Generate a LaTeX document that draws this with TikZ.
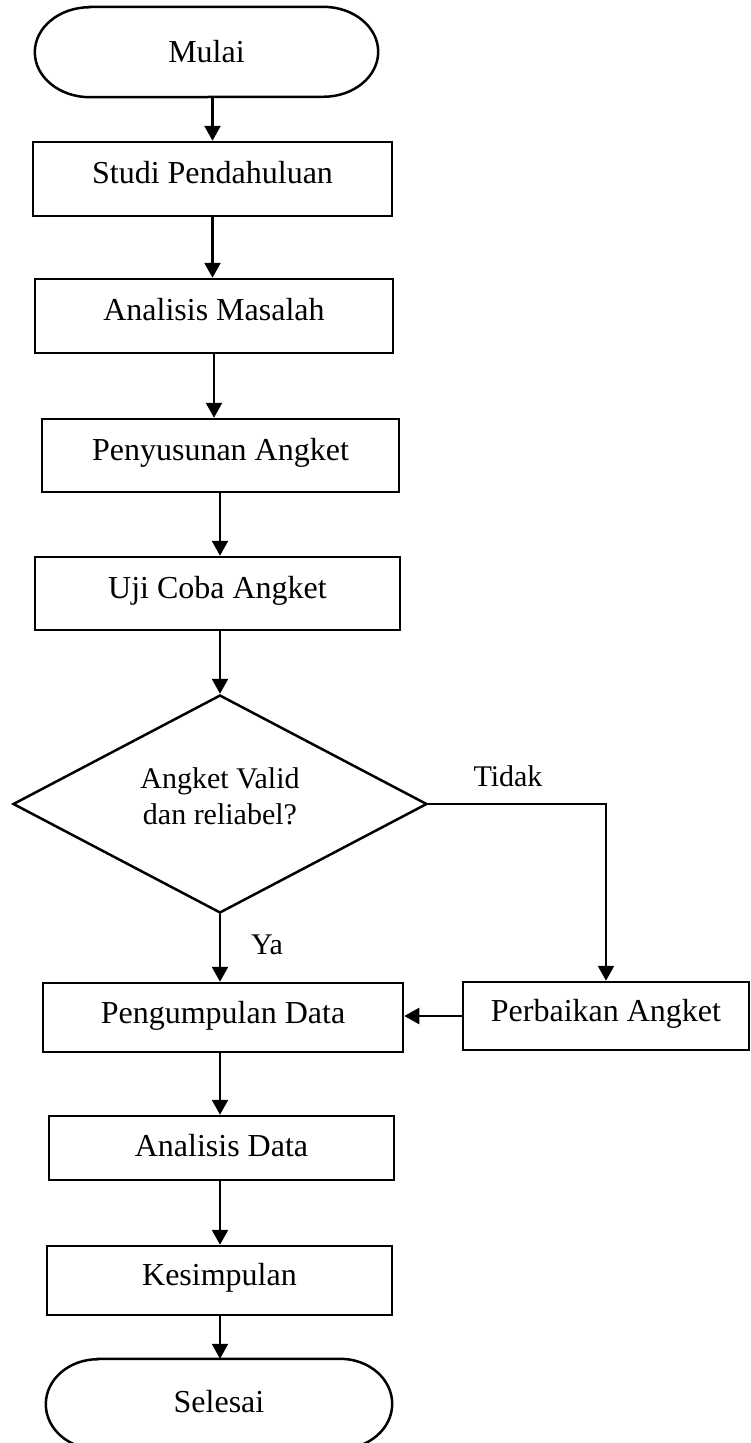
\documentclass[tikz,border=0pt]{standalone}
\usepackage{fontspec}
\setmainfont{Liberation Serif}
\usetikzlibrary{arrows.meta,shapes.geometric}
\newcommand\mainsz{\fontsize{32pt}{38pt}\selectfont}
\newcommand\labsz{\fontsize{30pt}{36pt}\selectfont}
\begin{document}
\begin{tikzpicture}[x=1pt,y=-1pt,
  box/.style={draw,rectangle,line width=2.5pt,inner sep=0pt,font=\mainsz,text height=24pt,text depth=15pt},
  term/.style={rectangle,inner sep=0pt,font=\mainsz,text height=21pt,text depth=0pt},
  termline/.style={line width=2.5pt},
  decision/.style={diamond,draw,line width=2.5pt,inner sep=0pt,minimum width=414pt,minimum height=218pt},
  arr/.style={line width=2.5pt,-{Triangle[width=16pt,length=15pt]}},
  lab/.style={font=\labsz,anchor=base}]
\clip (0,0) rectangle (750,1443);
\fill[white] (0,0) rectangle (750,1443);

% terminator start
\node[term,minimum width=343pt,minimum height=90pt] (start) at (206.5,52) {Mulai};
\draw[termline] ([xshift=55pt]start.north west) -- ([xshift=-55pt]start.north east)
  arc[start angle=90,end angle=-90,x radius=55pt,y radius=45pt]
  -- ([xshift=55pt]start.south west)
  arc[start angle=270,end angle=90,x radius=55pt,y radius=45pt] -- cycle;

\node[box,minimum width=359pt,minimum height=74pt] (studi) at (212.5,179) {Studi Pendahuluan};
\node[box,minimum width=358pt,minimum height=74pt] (anmas) at (214,316) {Analisis Masalah};
\node[box,minimum width=357pt,minimum height=73pt] (peny) at (220.5,455.5) {Penyusunan Angket};
\node[box,minimum width=365pt,minimum height=73pt] (uji) at (217.5,593.5) {Uji Coba Angket};
\node[decision] (dec) at (220,804) {};
\node[font=\labsz,align=center,anchor=base] (dectext) at (220,824) {Angket Valid\\dan reliabel?};
\node[box,minimum width=360pt,minimum height=69pt,text depth=13pt] (pengum) at (223,1017.5) {Pengumpulan Data};
\node[box,minimum width=286pt,minimum height=68pt,text depth=13pt] (perb) at (606,1016) {Perbaikan Angket};
\node[box,minimum width=345pt,minimum height=64pt,text height=20pt,text depth=4pt] (anda) at (221.5,1148) {Analisis Data};
\node[box,minimum width=345pt,minimum height=69pt] (kes) at (219.5,1280.5) {Kesimpulan};

% terminator end
\node[term,minimum width=346pt,minimum height=90pt,text height=20pt,text depth=4pt] (end) at (219,1404) {Selesai};
\draw[termline] ([xshift=52pt]end.north west) -- ([xshift=-52pt]end.north east)
  arc[start angle=90,end angle=-90,x radius=52pt,y radius=45pt]
  -- ([xshift=52pt]end.south west)
  arc[start angle=270,end angle=90,x radius=52pt,y radius=45pt] -- cycle;

% connectors
\draw[arr] (studi.north |- start.south) -- (studi.north);
\draw[arr] (studi.south) -- (studi.south |- anmas.north);
\draw[arr] (anmas.south) -- (anmas.south |- peny.north);
\draw[arr] (peny.south -| dec.north) -- (dec.north |- uji.north);
\draw[arr] (uji.south -| dec.north) -- (dec.north);
\draw[arr] (dec.south) -- (dec.south |- pengum.north);
\draw[arr] (dec.east) -| (perb.north);
\draw[arr] (perb.west) -- (pengum.east |- perb.west);
\draw[arr] (pengum.south -| dec.south) -- (dec.south |- anda.north);
\draw[arr] (anda.south -| dec.south) -- (dec.south |- kes.north);
\draw[arr] (kes.south -| dec.south) -- (dec.south |- end.north);

% labels
\node[lab] (tidak) at (508,786) {Tidak};
\node[lab] (ya) at (267,954) {Ya};
\end{tikzpicture}
\end{document}
